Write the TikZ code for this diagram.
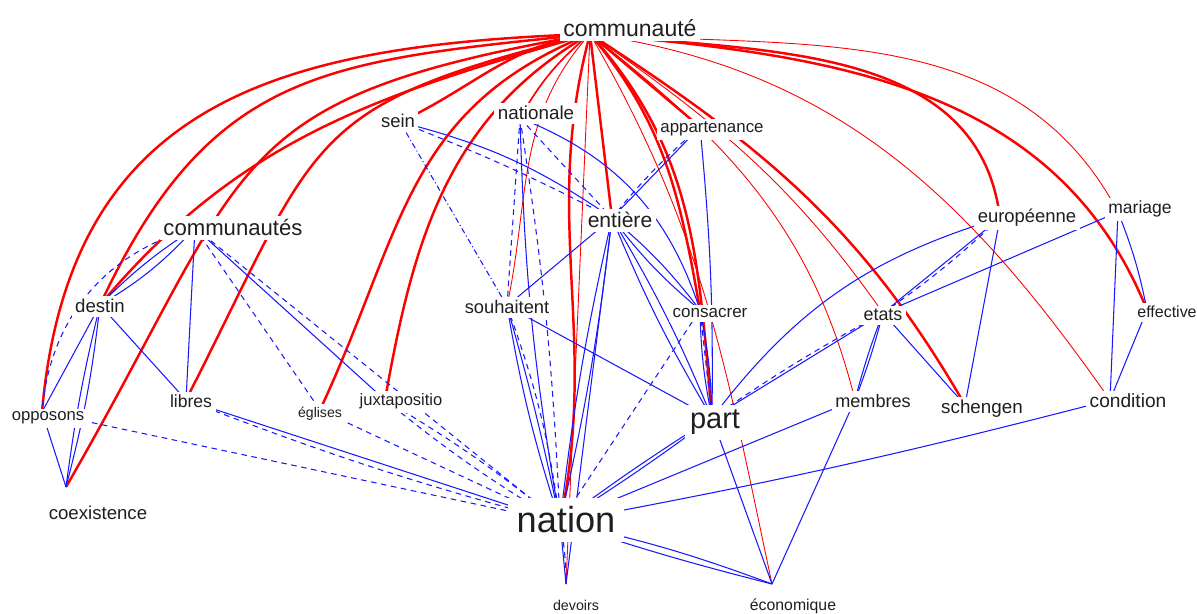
\documentclass[tikz,border=0pt]{standalone}
\usepackage{fontspec}
\setmainfont{Liberation Sans}
\definecolor{edgeblue}{RGB}{25,25,255}
\definecolor{edgered}{RGB}{255,0,0}
\pgfdeclarelayer{edges}
\pgfsetlayers{edges,main}
\newcommand\lfs[1]{\fontsize{#1}{#1}\selectfont}

\begin{document}
\begin{tikzpicture}[x=0.02cm,y=-0.02cm,
  lab/.style={fill=white, inner sep=2pt, text=black!88, anchor=base},
  rk/.style={draw=edgered, line width=1.4pt},
  rm/.style={draw=edgered, line width=0.95pt},
  rt/.style={draw=edgered, line width=0.5pt},
  bl/.style={draw=edgeblue, line width=0.6pt},
  bd/.style={bl, dash pattern=on 3.2pt off 2.6pt},
  bdd/.style={bl, dash pattern=on 3.2pt off 1.6pt on 0.6pt off 1.6pt}]
\useasboundingbox (0,0) rectangle (1197,614);

% graph vertices (where the edges meet)
\coordinate (communaute) at (590,34);
\coordinate (sein) at (400,122);
\coordinate (nationale) at (520,118);
\coordinate (appartenance) at (700,127);
\coordinate (communautes) at (195,228);
\coordinate (entiere) at (612,218);
\coordinate (europeenne) at (1000,218);
\coordinate (mariage) at (1118,212);
\coordinate (destin) at (100,305);
\coordinate (souhaitent) at (507,306);
\coordinate (consacrer) at (700,310);
\coordinate (etats) at (883,313);
\coordinate (effective) at (1147,310);
\coordinate (opposons) at (42,412);
\coordinate (libres) at (186,400);
\coordinate (eglises) at (320,410);
\coordinate (juxtapositio) at (385,400);
\coordinate (part) at (712,418);
\coordinate (membres) at (855,400);
\coordinate (schengen) at (965,405);
\coordinate (condition) at (1110,400);
\coordinate (coexistence) at (66,487);
\coordinate (nation) at (560,522);
\coordinate (devoirs) at (566,584);
\coordinate (economique) at (772,584);

% word labels
\node[lab,font=\lfs{13.1}] (l-communaute) at (630,37) {communauté};
\node[lab,font=\lfs{10.5}] (l-sein) at (398,128) {sein};
\node[lab,font=\lfs{10.7}] (l-nationale) at (536,120) {nationale};
\node[lab,font=\lfs{9.6}] (l-appartenance) at (712,133) {appartenance};
\node[lab,font=\lfs{12.6}] (l-communautes) at (233,236) {communautés};
\node[lab,font=\lfs{12}] (l-entiere) at (620,228) {entière};
\node[lab,font=\lfs{10.5}] (l-europeenne) at (1027,223) {européenne};
\node[lab,font=\lfs{10}] (l-mariage) at (1140,214) {mariage};
\node[lab,font=\lfs{10.6}] (l-destin) at (100,313) {destin};
\node[lab,font=\lfs{10.4}] (l-souhaitent) at (507,314) {souhaitent};
\node[lab,font=\lfs{9.7}] (l-consacrer) at (710,318) {consacrer};
\node[lab,font=\lfs{10.2}] (l-etats) at (883,321) {etats};
\node[lab,font=\lfs{9.1}] (l-effective) at (1167,318) {effective};
\node[lab,font=\lfs{9.5}] (l-opposons) at (48,421) {opposons};
\node[lab,font=\lfs{10}] (l-libres) at (191,408) {libres};
\node[lab,font=\lfs{8}] (l-eglises) at (320,418) {églises};
\node[lab,font=\lfs{9.4}] (l-juxtapositio) at (401,406) {juxtapositio};
\node[lab,font=\lfs{16.5},inner sep=3pt] (l-part) at (715,429) {part};
\node[lab,font=\lfs{10.3}] (l-membres) at (873,408) {membres};
\node[lab,font=\lfs{10.7}] (l-schengen) at (982,414) {schengen};
\node[lab,font=\lfs{10.9}] (l-condition) at (1128,408) {condition};
\node[lab,font=\lfs{10.6}] (l-coexistence) at (98,520) {coexistence};
\node[lab,font=\lfs{20.6},inner sep=5pt] (l-nation) at (566,533) {nation};
\node[lab,font=\lfs{8.1}] (l-devoirs) at (576,610) {devoirs};
\node[lab,font=\lfs{9}] (l-economique) at (793,610) {économique};

\begin{pgfonlayer}{edges}
\fill[white] (0,0) rectangle (1197,614);
% red: links of "communauté", western side
\draw[rk] (communaute) to[out=182,in=85,looseness=1.2] (opposons);
\draw[rk] (communaute) to[out=186,in=65,looseness=1.2] (destin);
\draw[rk] (communaute) to[out=196,in=50] (destin);
\draw[rk] (communaute) to[out=190,in=60,looseness=1.4] (coexistence);
\draw[rk] (communaute) to[out=194,in=63,looseness=1.4] (libres);
\draw[rk] (communaute) to[out=202,in=65,looseness=1.1] (eglises);
\draw[rk] (communaute) to[out=210,in=80] (juxtapositio);
\draw[rk] (communaute) to[out=188,in=25] (sein);
\draw[rt] (communaute) to[out=228,in=78] (souhaitent);
\draw[rm] (communaute) to[bend right=10] (nationale);
\draw[rk] (communaute) to[out=255,in=78] (nation);
\draw[rt] (communaute) -- (devoirs);
\draw[rk] (communaute) -- (entiere);
% red: links of "communauté", eastern side
\draw[rk] (communaute) -- (appartenance);
\draw[rk] (communaute) to[out=-48,in=95] (part);
\draw[rk] (communaute) to[out=-50,in=100] (consacrer);
\draw[rt] (communaute) to[out=-60,in=102] (economique);
\draw[rt] (communaute) to[out=-35,in=125] (etats);
\draw[rk] (communaute) to[out=-33,in=120] (schengen);
\draw[rt] (communaute) to[out=-38,in=104] (membres);
\draw[rk] (communaute) to[out=-6,in=97] (europeenne);
\draw[rt] (communaute) to[out=-8,in=125] (condition);
\draw[rt] (communaute) to[out=-4,in=118] (mariage);
\draw[rk] (communaute) to[out=-5,in=112] (effective);

% blue: western cluster
\draw[bl] (communautes) to[bend left=8] (destin);
\draw[bl] (communautes) to[bend right=6] (destin);
\draw[bd] (communautes) to[bend right=35] (opposons);
\draw[bl] (communautes) -- (libres);
\draw[bl] (communautes) -- (juxtapositio);
\draw[bd] (communautes) -- (eglises);
\draw[bd] (communautes) -- (nation);
\draw[bl] (destin) -- (opposons);
\draw[bl] (destin) to[bend left=4] (coexistence);
\draw[bl] (destin) to[bend right=3] (coexistence);
\draw[bl] (destin) -- (libres);
\draw[bl] (opposons) -- (coexistence);
\draw[bd] (opposons) -- (nation);
\draw[bl] (libres) -- (nation);
\draw[bd] (libres) to[bend right=3] (nation);
\draw[bd] (eglises) -- (nation);
\draw[bd] (juxtapositio) to[bend left=4] (nation);
\draw[bd] (juxtapositio) to[bend right=4] (nation);

% blue: central cluster
\draw[bdd] (sein) -- (souhaitent);
\draw[bl] (sein) to[bend left=10] (entiere);
\draw[bd] (sein) to[bend left=3] (entiere);
\draw[bd] (nationale) -- (souhaitent);
\draw[bl] (nationale) to[bend right=4] (nation);
\draw[bd] (nationale) to[bend left=3] (nation);
\draw[bd] (nationale) -- (entiere);
\draw[bl] (nationale) to[bend left=25] (consacrer);
\draw[bl] (entiere) -- (souhaitent);
\draw[bl] (entiere) to[bend left=3] (nation);
\draw[bl] (entiere) to[bend right=3] (nation);
\draw[bl] (entiere) -- (devoirs);
\draw[bl] (entiere) to[bend left=6] (consacrer);
\draw[bl] (entiere) to[bend right=6] (consacrer);
\draw[bl] (entiere) to[bend left=4] (part);
\draw[bl] (entiere) to[bend right=4] (part);
\draw[bl] (appartenance) -- (entiere);
\draw[bd] (appartenance) to[bend right=5] (entiere);
\draw[bl] (appartenance) to[bend left=3] (part);
\draw[bl] (consacrer) to[bend left=5] (part);
\draw[bl] (consacrer) to[bend right=5] (part);
\draw[bd] (consacrer) -- (part);
\draw[bl] (souhaitent) -- (part);
\draw[bl] (souhaitent) to[bend right=4] (nation);
\draw[bl] (souhaitent) to[bend left=2] (nation);
\draw[bd] (souhaitent) to[bend left=6] (nation);
\draw[bl] (part) to[bend left=2] (nation);
\draw[bl] (part) to[bend right=2] (nation);
\draw[bd] (nation) -- (consacrer);
\draw[bl] (nation) -- (devoirs);
\draw[bd] (nation) to[bend left=5] (devoirs);

% blue: eastern cluster
\draw[bl] (part) -- (economique);
\draw[bl] (part) to[bend left=18] (europeenne);
\draw[bl] (part) -- (etats);
\draw[bd] (part) to[bend left=3] (etats);
\draw[bl] (etats) to[bend left=3] (membres);
\draw[bl] (etats) to[bend right=3] (membres);
\draw[bl] (etats) -- (schengen);
\draw[bl] (etats) -- (europeenne);
\draw[bd] (etats) to[bend right=4] (europeenne);
\draw[bl] (etats) -- (mariage);
\draw[bl] (europeenne) -- (schengen);
\draw[bl] (mariage) -- (condition);
\draw[bl] (effective) -- (condition);
\draw[bl] (mariage) to[bend left=5] (effective);
\draw[bl] (condition) to[bend left=2] (nation);
\draw[bl] (membres) -- (nation);
\draw[bl] (membres) -- (economique);
\draw[bl] (nation) to[bend left=4] (economique);
\draw[bl] (nation) to[bend right=2] (economique);
\end{pgfonlayer}
\end{tikzpicture}
\end{document}
